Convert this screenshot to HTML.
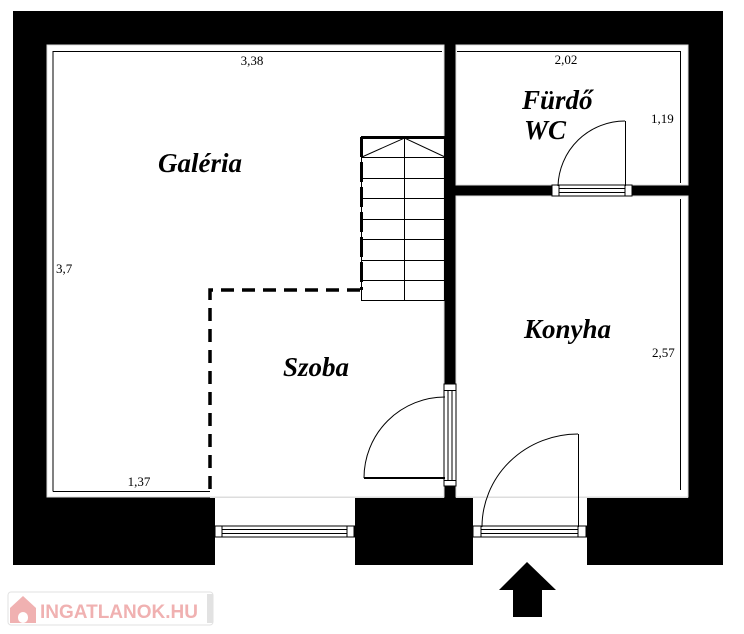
<!DOCTYPE html>
<html><head><meta charset="utf-8"><style>
html,body{margin:0;padding:0;background:#fff;width:744px;height:634px;overflow:hidden}
svg{display:block}
.d{font-family:"Liberation Serif",serif;font-size:13px;fill:#000}
.r{font-family:"Liberation Serif",serif;font-size:27px;font-weight:bold;font-style:italic;fill:#000}
</style></head><body>
<svg width="744" height="634" viewBox="0 0 744 634" xmlns="http://www.w3.org/2000/svg">
<rect x="13" y="11" width="710" height="554" fill="#000"/>
<rect x="47" y="45" width="397" height="452" fill="#fff" stroke="#ddd" stroke-width="1"/>
<rect x="456" y="45" width="232" height="140" fill="#fff" stroke="#ddd" stroke-width="1"/>
<rect x="456" y="196" width="232" height="301" fill="#fff" stroke="#ddd" stroke-width="1"/>
<rect x="215" y="497" width="140" height="68" fill="#fff"/>
<rect x="473" y="497" width="114" height="68" fill="#fff"/>
<line x1="210" y1="497.5" x2="444" y2="497.5" stroke="#ddd"/>
<line x1="456" y1="497.5" x2="688" y2="497.5" stroke="#ddd"/>
<g stroke="#000" stroke-width="1" fill="none">
<polyline points="53,491.5 53,51.5 442,51.5"/>
<line x1="53" y1="491.5" x2="210" y2="491.5"/>
<polyline points="457,51.5 680.5,51.5 680.5,183"/>
<line x1="680.5" y1="199" x2="680.5" y2="490"/>
</g>
<g stroke="#000" fill="none">
<rect x="361.5" y="137.5" width="83" height="163" stroke-width="1"/>
<line x1="361" y1="137.5" x2="445" y2="137.5" stroke-width="3"/>
<line x1="361.5" y1="137" x2="361.5" y2="290" stroke-width="3" stroke-dasharray="20,5"/>
<line x1="404.5" y1="138" x2="404.5" y2="301"/>
<line x1="362" y1="157.5" x2="445" y2="157.5"/>
<line x1="362" y1="178.5" x2="445" y2="178.5"/>
<line x1="362" y1="198.5" x2="445" y2="198.5"/>
<line x1="362" y1="219.5" x2="445" y2="219.5"/>
<line x1="362" y1="239.5" x2="445" y2="239.5"/>
<line x1="362" y1="260.5" x2="445" y2="260.5"/>
<line x1="362" y1="280.5" x2="445" y2="280.5"/>
<polyline points="362,157 404.5,138 445,157"/>
</g>
<g stroke="#000" stroke-width="3.5" fill="none" stroke-dasharray="13,8">
<polyline points="360,290 210,290 210,497"/>
</g>
<rect x="444" y="384" width="12" height="102" fill="#fff" stroke="#000"/>
<line x1="448" y1="390" x2="448" y2="480" stroke="#000"/>
<line x1="452" y1="390" x2="452" y2="480" stroke="#000"/>
<line x1="444" y1="390.5" x2="456" y2="390.5" stroke="#000"/>
<line x1="444" y1="480.5" x2="456" y2="480.5" stroke="#000"/>
<line x1="364" y1="478" x2="445" y2="478" stroke="#000" stroke-width="2"/>
<path d="M364,478 A81,81 0 0 1 445,397" stroke="#000" fill="none"/>
<rect x="552" y="185" width="80" height="11" fill="#fff" stroke="#000"/>
<rect x="552" y="185" width="7" height="11" fill="#fff" stroke="#000"/>
<rect x="625" y="185" width="7" height="11" fill="#fff" stroke="#000"/>
<line x1="559" y1="188.5" x2="625" y2="188.5" stroke="#000"/>
<line x1="559" y1="192.5" x2="625" y2="192.5" stroke="#000"/>
<line x1="625.5" y1="121" x2="625.5" y2="186" stroke="#000"/>
<path d="M558,186 A67,67 0 0 1 625,121" stroke="#000" fill="none"/>
<rect x="215" y="526" width="140" height="11" fill="#fff" stroke="#000"/>
<rect x="215" y="526" width="7" height="11" fill="#fff" stroke="#000"/>
<rect x="347" y="526" width="7" height="11" fill="#fff" stroke="#000"/>
<line x1="222" y1="529.5" x2="347" y2="529.5" stroke="#000"/>
<line x1="222" y1="533.5" x2="347" y2="533.5" stroke="#000"/>
<rect x="473" y="526" width="114" height="11" fill="#fff" stroke="#000"/>
<rect x="473" y="526" width="8" height="11" fill="#fff" stroke="#000"/>
<rect x="578" y="526" width="8" height="11" fill="#fff" stroke="#000"/>
<line x1="481" y1="529.5" x2="578" y2="529.5" stroke="#000"/>
<line x1="481" y1="533.5" x2="578" y2="533.5" stroke="#000"/>
<line x1="578.5" y1="434" x2="578.5" y2="527" stroke="#000"/>
<path d="M482,527 A96,93 0 0 1 578,434" stroke="#000" fill="none"/>
<polygon points="527,562 556,590 542,590 542,617 513,617 513,590 499,590" fill="#000"/>
<text class="d" x="252" y="65" text-anchor="middle">3,38</text>
<text class="d" x="566" y="64" text-anchor="middle">2,02</text>
<text class="d" x="651" y="123">1,19</text>
<text class="d" x="56" y="273">3,7</text>
<text class="d" x="652" y="357">2,57</text>
<text class="d" x="139" y="486" text-anchor="middle">1,37</text>
<text class="r" x="158" y="172">Galéria</text>
<text class="r" x="522" y="109">Fürdő</text>
<text class="r" x="524" y="139">WC</text>
<text class="r" x="283" y="376">Szoba</text>
<text class="r" x="524" y="338">Konyha</text>
<g opacity="0.55">
<rect x="8" y="592" width="205" height="33" rx="3" fill="#fff" stroke="#ccc"/>
<rect x="207" y="594" width="6" height="29" fill="#ccc"/>
<polygon points="10,608 23,596 36,608 36,623 10,623" fill="#e57373"/>
<rect x="18" y="612" width="10" height="11" rx="5" fill="#fff"/>
<text x="40" y="618" font-family="'Liberation Sans',sans-serif" font-weight="bold" font-size="19" fill="#e57373">INGATLANOK.HU</text>
</g>
</svg>
</body></html>
